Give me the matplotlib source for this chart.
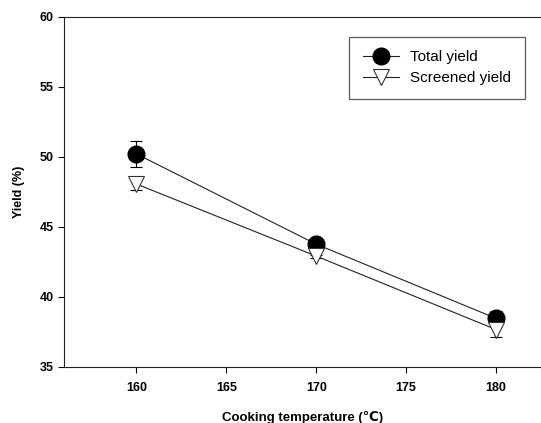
import matplotlib
matplotlib.use("Agg")
import matplotlib.pyplot as plt

# values
TEMPERATURES = [160, 170, 180]
TOTAL_YIELD = [50.2, 43.75, 38.45]
TOTAL_ERR = [0.95, 0.1, 0.55]
SCREENED_YIELD = [48.05, 42.9, 37.65]
SCREENED_ERR = [0.45, 0.1, 0.5]
X_TICKS = [160, 165, 170, 175, 180]
Y_TICKS = [35, 40, 45, 50, 55, 60]

plt.rcParams["font.family"] = ["Liberation Sans", "DejaVu Sans"]

fig = plt.figure(figsize=(5.41, 4.23), dpi=100)
ax = fig.add_axes([0.1192, 0.1331, 0.8808, 0.8274])

ax.errorbar(TEMPERATURES, TOTAL_YIELD, yerr=TOTAL_ERR, fmt="none",
            ecolor="black", elinewidth=0.8, capsize=4, capthick=0.8, zorder=2)
ax.plot(TEMPERATURES, TOTAL_YIELD, color="#222222", linewidth=0.8,
        marker="o", markersize=12, markerfacecolor="black",
        markeredgecolor="black", label="Total yield", zorder=3)
ax.errorbar(TEMPERATURES, SCREENED_YIELD, yerr=SCREENED_ERR, fmt="none",
            ecolor="black", elinewidth=0.8, capsize=4, capthick=0.8, zorder=4)
ax.plot(TEMPERATURES, SCREENED_YIELD, color="#222222", linewidth=0.8,
        marker="v", markersize=12, markerfacecolor="white",
        markeredgecolor="#333333", markeredgewidth=0.8,
        label="Screened yield", zorder=5)

ax.set_xlim(156, 182.5)
ax.set_ylim(35, 60)
ax.set_xticks(X_TICKS)
ax.set_yticks(Y_TICKS)
for label in ax.get_xticklabels() + ax.get_yticklabels():
    label.set_fontweight("bold")
ax.tick_params(direction="out", length=4, width=0.8, labelsize=9)
ax.tick_params(axis="x", pad=7)
ax.tick_params(axis="y", pad=4)

ax.spines["right"].set_visible(False)
for side in ["left", "bottom", "top"]:
    ax.spines[side].set_linewidth(0.8)
    ax.spines[side].set_color("#222222")

ax.set_xlabel("Cooking temperature (\u2103)", fontsize=9.5, fontweight="bold", labelpad=12)
ax.set_ylabel("Yield (%)", fontsize=9, fontweight="bold", labelpad=10)

legend = ax.legend(loc="upper right", bbox_to_anchor=(0.966, 0.943), borderaxespad=0,
                   fontsize=11, frameon=True, fancybox=False, handlelength=2.4,
                   handletextpad=0.7, labelspacing=0.45, borderpad=0.9)
legend.get_frame().set_edgecolor("#333333")
legend.get_frame().set_linewidth(0.9)

fig.savefig("out.png", dpi=100)
